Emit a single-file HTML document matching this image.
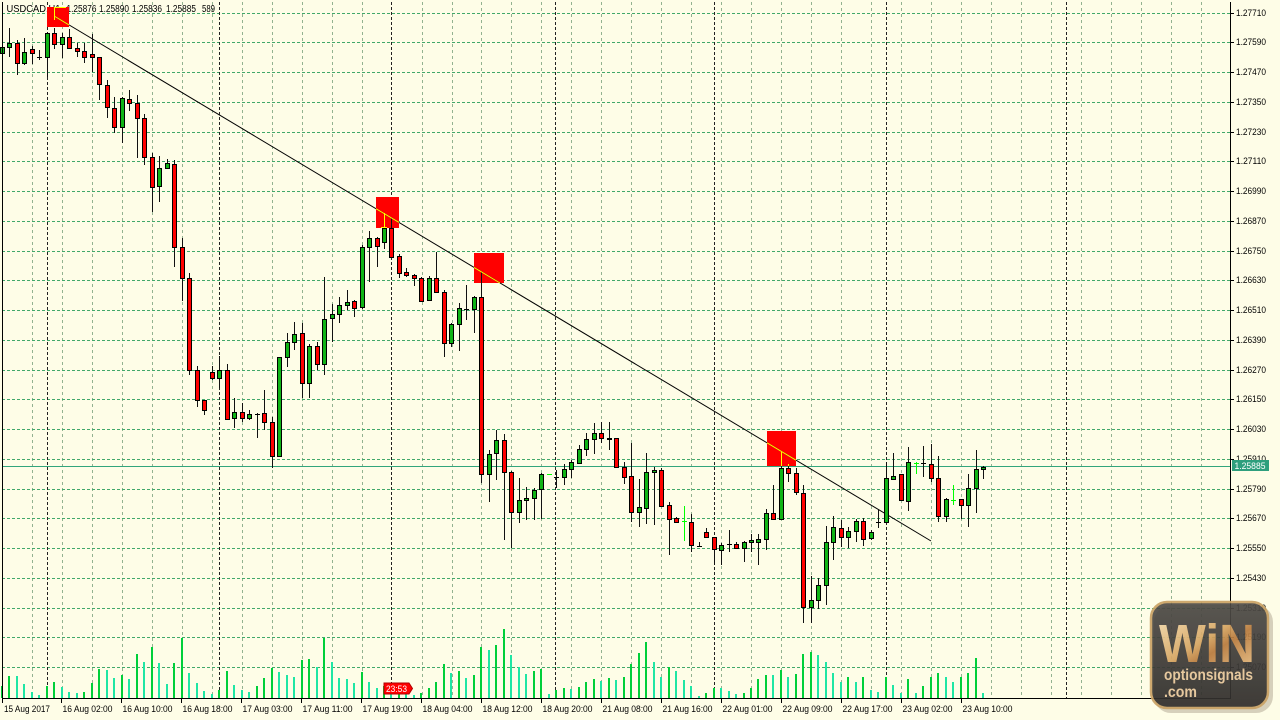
<!DOCTYPE html>
<html>
<head>
<meta charset="utf-8">
<style>
html,body{margin:0;padding:0;background:#FEFDE7;}
body{width:1280px;height:720px;overflow:hidden;}
svg{display:block;}
text{font-family:"Liberation Sans",sans-serif;}
</style>
</head>
<body>
<svg width="1280" height="720" viewBox="0 0 1280 720" xmlns="http://www.w3.org/2000/svg">
<defs>
<linearGradient id="gold" x1="0" y1="0" x2="1" y2="1">
<stop offset="0" stop-color="#f7e0b5"/>
<stop offset="0.45" stop-color="#d9a864"/>
<stop offset="0.6" stop-color="#b97a3c"/>
<stop offset="1" stop-color="#f0c98e"/>
</linearGradient>
<linearGradient id="bgl" x1="0" y1="0" x2="0" y2="1">
<stop offset="0" stop-color="#4d4a46"/>
<stop offset="1" stop-color="#2e2c2a"/>
</linearGradient>
</defs>
<rect x="0" y="0" width="1280" height="720" fill="#FEFDE7"/>

<!-- vertical grid -->
<path shape-rendering="crispEdges" stroke="#93b290" stroke-width="1" stroke-dasharray="3 3" fill="none" d="M32.5 2V698M62.5 2V698M92.5 2V698M122.5 2V698M152.5 2V698M182.5 2V698M212.5 2V698M242.5 2V698M272.5 2V698M302.5 2V698M332.5 2V698M362.5 2V698M422.5 2V698M452.5 2V698M481.5 2V698M511.5 2V698M541.5 2V698M571.5 2V698M601.5 2V698M631.5 2V698M661.5 2V698M691.5 2V698M721.5 2V698M751.5 2V698M781.5 2V698M811.5 2V698M841.5 2V698M871.5 2V698M901.5 2V698M931.5 2V698M961.5 2V698M991.5 2V698M1021.5 2V698M1051.5 2V698M1081.5 2V698M1111.5 2V698M1141.5 2V698M1171.5 2V698M1201.5 2V698"/>
<!-- horizontal grid -->
<path shape-rendering="crispEdges" stroke="#41a86a" stroke-width="1" stroke-dasharray="3 2" fill="none" d="M2 13.5H1230M2 42.5H1230M2 72.5H1230M2 102.5H1230M2 132.5H1230M2 161.5H1230M2 191.5H1230M2 221.5H1230M2 251.5H1230M2 280.5H1230M2 310.5H1230M2 340.5H1230M2 370.5H1230M2 399.5H1230M2 429.5H1230M2 459.5H1230M2 489.5H1230M2 518.5H1230M2 548.5H1230M2 578.5H1230M2 608.5H1230M2 637.5H1230M2 667.5H1230"/>
<!-- day separators -->
<path shape-rendering="crispEdges" stroke="#222" stroke-width="1" stroke-dasharray="3 2" fill="none" d="M47.5 2V698M219.5 2V698M391.5 2V698M555.5 2V698M714.5 2V698M886.5 2V698M1066.5 2V698"/>

<!-- header text -->
<text x="6.5" y="12" font-size="10" textLength="54" lengthAdjust="spacingAndGlyphs" fill="#000">USDCAD,H1</text>
<text x="66.5" y="12" font-size="10" textLength="30" lengthAdjust="spacingAndGlyphs" fill="#000">1.25876</text>
<text x="99" y="12" font-size="10" textLength="30" lengthAdjust="spacingAndGlyphs" fill="#000">1.25890</text>
<text x="132" y="12" font-size="10" textLength="30" lengthAdjust="spacingAndGlyphs" fill="#000">1.25836</text>
<text x="166" y="12" font-size="10" textLength="30" lengthAdjust="spacingAndGlyphs" fill="#000">1.25885</text>
<text x="202" y="12" font-size="10" textLength="13" lengthAdjust="spacingAndGlyphs" fill="#000">589</text>

<!-- red squares -->
<g fill="#ff0000" shape-rendering="crispEdges">
<rect x="47" y="7" width="22" height="20"/>
<rect x="376" y="197" width="23" height="31"/>
<rect x="474" y="253" width="30" height="30"/>
<rect x="767" y="431" width="29" height="35"/>
</g>

<!-- volumes -->
<path shape-rendering="crispEdges" stroke="#00cf3a" stroke-width="2" fill="none" d="M2 686V698M9 676V698M47 686V698M54 682V698M84 692V698M92 683V698M99 669V698M122 675V698M137 654V698M152 647V698M174 663V698M182 638V698M219 690V698M227 671V698M257 686V698M264 678V698M272 668V698M302 660V698M309 659V698M324 638V698M362 672V698M384 686V698M399 686V698M421 693V698M429 688V698M436 682V698M444 664V698M459 671V698M474 675V698M481 647V698M496 645V698M504 629V698M534 671V698M541 669V698M556 690V698M564 688V698M579 687V698M586 682V698M594 679V698M609 678V698M624 677V698M631 664V698M639 653V698M646 642V698M669 667V698M706 693V698M714 688V698M744 693V698M751 688V698M758 679V698M766 675V698M781 670V698M796 674V698M803 654V698M811 652V698M848 677V698M863 677V698M886 677V698M908 679V698M923 686V698M931 677V698M938 673V698M961 677V698M968 673V698M976 658V698"/>
<path shape-rendering="crispEdges" stroke="#1fe6a4" stroke-width="2" fill="none" d="M17 676V698M24 684V698M32 692V698M39 695V698M62 687V698M69 692V698M77 693V698M107 670V698M114 678V698M129 679V698M144 662V698M159 663V698M167 684V698M189 673V698M197 683V698M204 691V698M212 694V698M234 685V698M242 690V698M249 692V698M279 672V698M287 675V698M294 677V698M317 667V698M332 662V698M339 678V698M347 679V698M354 683V698M369 682V698M377 688V698M391 688V698M406 690V698M414 695V698M451 673V698M466 678V698M489 650V698M511 655V698M519 667V698M526 674V698M549 694V698M571 689V698M601 681V698M616 680V698M654 662V698M661 677V698M676 671V698M684 680V698M691 686V698M699 696V698M721 688V698M729 691V698M736 694V698M773 675V698M788 677V698M818 655V698M826 662V698M833 673V698M841 682V698M856 682V698M871 690V698M878 692V698M893 685V698M901 693V698M916 693V698M946 677V698M953 682V698M983 693V698"/>

<!-- current price line -->
<path shape-rendering="crispEdges" stroke="#33a57c" stroke-width="1" d="M2 466.5H1230"/>

<!-- trendline -->
<path stroke="#000" stroke-width="1" fill="none" d="M55 16.5L931 541"/>

<!-- wicks -->
<path shape-rendering="crispEdges" stroke="#111" stroke-width="1" fill="none" d="M2.5 44V56M9.5 28V57M17.5 40V75M24.5 38V65M32.5 46V64M39.5 50V60M47.5 32V77M54.5 28V49M62.5 33V58M69.5 29V48M77.5 43V57M84.5 43V63M92.5 34V72M99.5 57V100M107.5 80V118M114.5 97V133M122.5 97V143M129.5 90V111M137.5 95V158M144.5 114V165M152.5 153V212M159.5 156V202M167.5 159V169M174.5 160V267M182.5 238V301M189.5 273V375M197.5 366V407M204.5 400V415M212.5 366V380M219.5 356V388M227.5 364V420M234.5 398V428M242.5 403V422M249.5 410V420M257.5 413V438M264.5 390V430M272.5 417V468M279.5 357V456M287.5 333V367M294.5 322V350M302.5 323V398M309.5 344V398M317.5 342V370M324.5 277V375M332.5 304V342M339.5 297V323M347.5 290V310M354.5 300V317M362.5 245V309M369.5 231V282M377.5 237V267M384.5 213V249M391.5 218V258M399.5 254V278M406.5 268V277M414.5 274V286M421.5 277V302M429.5 276V301M436.5 252V293M444.5 290V357M451.5 323V347M459.5 303V351M466.5 285V320M474.5 296V333M481.5 272V483M489.5 450V502M496.5 430V480M504.5 434V540M511.5 471V548M519.5 478V523M526.5 487V520M534.5 488V520M541.5 473V519M556.5 470V488M564.5 464V485M571.5 460V478M579.5 445V464M586.5 433V456M594.5 423V454M601.5 422V443M609.5 422V450M616.5 438V468M624.5 462V484M631.5 443V522M639.5 479V527M646.5 453V524M654.5 467V525M661.5 468V507M669.5 502V555M676.5 517V523M691.5 514V552M699.5 542V547M706.5 528V538M714.5 537V565M721.5 543V565M729.5 530V552M736.5 542V548M744.5 541V562M751.5 534V552M758.5 534V565M766.5 509V550M773.5 485V520M781.5 452V520M788.5 464V482M796.5 468V495M803.5 485V623M811.5 576V623M818.5 578V609M826.5 526V605M833.5 516V560M841.5 520V547M848.5 527V548M856.5 519V542M863.5 518V546M871.5 530V540M878.5 510V528M886.5 462V523M893.5 453V480M901.5 474V501M908.5 447V511M923.5 446V477M931.5 444V482M938.5 456V522M946.5 498V522M961.5 499V519M968.5 474V527M976.5 450V513M983.5 466V479"/>

<!-- green bodies -->
<path shape-rendering="crispEdges" fill="#10b416" stroke="#000" stroke-width="1" d="M0.5 47.5h4v6h-4zM7.5 43.5h4v4h-4zM22.5 52.5h4v11h-4zM45.5 33.5h4v24h-4zM60.5 37.5h4v7h-4zM120.5 98.5h4v29h-4zM157.5 168.5h4v18h-4zM165.5 163.5h4v5h-4zM217.5 370.5h4v8h-4zM232.5 412.5h4v6h-4zM247.5 414.5h4v4h-4zM277.5 357.5h4v99h-4zM285.5 342.5h4v15h-4zM292.5 334.5h4v8h-4zM307.5 346.5h4v37h-4zM322.5 319.5h4v45h-4zM330.5 314.5h4v4h-4zM337.5 305.5h4v9h-4zM345.5 302.5h4v3h-4zM360.5 247.5h4v60h-4zM367.5 238.5h4v9h-4zM382.5 228.5h4v14h-4zM427.5 278.5h4v22h-4zM449.5 324.5h4v19h-4zM457.5 308.5h4v16h-4zM472.5 297.5h4v12h-4zM487.5 454.5h4v20h-4zM494.5 440.5h4v13h-4zM517.5 500.5h4v12h-4zM524.5 498.5h4v2h-4zM532.5 490.5h4v8h-4zM539.5 474.5h4v15h-4zM562.5 469.5h4v8h-4zM569.5 462.5h4v7h-4zM577.5 449.5h4v14h-4zM584.5 439.5h4v10h-4zM592.5 433.5h4v6h-4zM637.5 507.5h4v5h-4zM644.5 472.5h4v36h-4zM652.5 470.5h4v2h-4zM719.5 545.5h4v5h-4zM742.5 542.5h4v6h-4zM749.5 540.5h4v2h-4zM756.5 539.5h4v3h-4zM764.5 513.5h4v26h-4zM779.5 468.5h4v51h-4zM809.5 600.5h4v7h-4zM816.5 585.5h4v15h-4zM824.5 542.5h4v43h-4zM831.5 527.5h4v15h-4zM846.5 531.5h4v6h-4zM854.5 521.5h4v10h-4zM869.5 532.5h4v6h-4zM884.5 478.5h4v44h-4zM891.5 476.5h4v3h-4zM906.5 462.5h4v39h-4zM944.5 499.5h4v17h-4zM966.5 488.5h4v17h-4zM974.5 469.5h4v19h-4zM981.5 467.5h4v2h-4z"/>

<!-- red bodies -->
<path shape-rendering="crispEdges" fill="#ff0000" stroke="#000" stroke-width="1" d="M15.5 43.5h4v20h-4zM30.5 49.5h4v4h-4zM52.5 33.5h4v11h-4zM67.5 37.5h4v11h-4zM75.5 48.5h4v3h-4zM82.5 51.5h4v6h-4zM90.5 54.5h4v3h-4zM97.5 57.5h4v27h-4zM105.5 85.5h4v22h-4zM112.5 108.5h4v19h-4zM127.5 99.5h4v4h-4zM135.5 103.5h4v15h-4zM142.5 118.5h4v39h-4zM150.5 157.5h4v30h-4zM172.5 164.5h4v83h-4zM180.5 247.5h4v31h-4zM187.5 278.5h4v92h-4zM195.5 370.5h4v30h-4zM202.5 400.5h4v10h-4zM210.5 372.5h4v6h-4zM225.5 370.5h4v49h-4zM240.5 412.5h4v6h-4zM262.5 413.5h4v9h-4zM270.5 422.5h4v34h-4zM300.5 333.5h4v50h-4zM315.5 346.5h4v18h-4zM352.5 301.5h4v7h-4zM375.5 238.5h4v8h-4zM389.5 228.5h4v29h-4zM397.5 256.5h4v17h-4zM404.5 272.5h4v3h-4zM412.5 275.5h4v3h-4zM419.5 278.5h4v23h-4zM434.5 278.5h4v14h-4zM442.5 292.5h4v51h-4zM479.5 297.5h4v177h-4zM502.5 440.5h4v32h-4zM509.5 472.5h4v40h-4zM599.5 433.5h4v5h-4zM614.5 438.5h4v29h-4zM622.5 467.5h4v10h-4zM629.5 476.5h4v36h-4zM659.5 470.5h4v36h-4zM667.5 505.5h4v14h-4zM674.5 518.5h4v4h-4zM689.5 522.5h4v23h-4zM704.5 532.5h4v5h-4zM712.5 537.5h4v12h-4zM734.5 544.5h4v4h-4zM771.5 513.5h4v6h-4zM786.5 468.5h4v5h-4zM794.5 473.5h4v19h-4zM801.5 493.5h4v114h-4zM839.5 528.5h4v9h-4zM861.5 521.5h4v18h-4zM899.5 474.5h4v26h-4zM929.5 464.5h4v14h-4zM936.5 478.5h4v38h-4zM959.5 499.5h4v6h-4z"/>

<!-- black dojis -->
<path shape-rendering="crispEdges" stroke="#000" stroke-width="1" fill="none" d="M37 57.5h5M255 414.5h5M464 309.5h5M554 477.5h5M607 438.5h5M607 439.5h5M697 546.5h5M727 544.5h5M876 522.5h5M921 463.5h5"/>
<!-- lime dojis -->
<path shape-rendering="crispEdges" stroke="#00ff00" stroke-width="1" fill="none" d="M547 474.5h5M684.5 506V541M682 521.5h5M916.5 462V474M914 463.5h5M953.5 485V505M951 500.5h5"/>

<!-- yellow highlights inside squares -->
<path stroke="#ffff00" stroke-width="1" fill="none" d="M55 16.5L69 24.9M54.5 20V7.5H66M376 208.7L399 222.4M474 267.4L500 283M767 442.8L796 460.2"/>
<path shape-rendering="crispEdges" stroke="#ffff00" stroke-width="1" fill="none" d="M384.5 213V227M381 227.5h6M781.5 452V466M788.5 464V466"/>

<!-- frame -->
<path shape-rendering="crispEdges" stroke="#000" stroke-width="1" fill="none" d="M2.5 2V699M2 698.5H1231M1230.5 2V699"/>
<!-- price axis ticks -->
<path shape-rendering="crispEdges" stroke="#000" stroke-width="1" fill="none" d="M1230 13.5h4M1230 42.5h4M1230 72.5h4M1230 102.5h4M1230 132.5h4M1230 161.5h4M1230 191.5h4M1230 221.5h4M1230 251.5h4M1230 280.5h4M1230 310.5h4M1230 340.5h4M1230 370.5h4M1230 399.5h4M1230 429.5h4M1230 459.5h4M1230 489.5h4M1230 518.5h4M1230 548.5h4M1230 578.5h4M1230 608.5h4M1230 637.5h4M1230 667.5h4"/>
<!-- time axis ticks -->
<path shape-rendering="crispEdges" stroke="#000" stroke-width="1" fill="none" d="M2.5 699V703M61.5 699V703M121.5 699V703M181.5 699V703M241.5 699V703M301.5 699V703M361.5 699V703M421.5 699V703M481.5 699V703M541.5 699V703M601.5 699V703M661.5 699V703M721.5 699V703M781.5 699V703M841.5 699V703M901.5 699V703M961.5 699V703"/>

<!-- price labels -->
<g font-size="9" fill="#000">
<text x="1236" y="16" textLength="30" lengthAdjust="spacingAndGlyphs">1.27710</text>
<text x="1236" y="45" textLength="30" lengthAdjust="spacingAndGlyphs">1.27590</text>
<text x="1236" y="75" textLength="30" lengthAdjust="spacingAndGlyphs">1.27470</text>
<text x="1236" y="105" textLength="30" lengthAdjust="spacingAndGlyphs">1.27350</text>
<text x="1236" y="135" textLength="30" lengthAdjust="spacingAndGlyphs">1.27230</text>
<text x="1236" y="164" textLength="30" lengthAdjust="spacingAndGlyphs">1.27110</text>
<text x="1236" y="194" textLength="30" lengthAdjust="spacingAndGlyphs">1.26990</text>
<text x="1236" y="224" textLength="30" lengthAdjust="spacingAndGlyphs">1.26870</text>
<text x="1236" y="254" textLength="30" lengthAdjust="spacingAndGlyphs">1.26750</text>
<text x="1236" y="283" textLength="30" lengthAdjust="spacingAndGlyphs">1.26630</text>
<text x="1236" y="313" textLength="30" lengthAdjust="spacingAndGlyphs">1.26510</text>
<text x="1236" y="343" textLength="30" lengthAdjust="spacingAndGlyphs">1.26390</text>
<text x="1236" y="373" textLength="30" lengthAdjust="spacingAndGlyphs">1.26270</text>
<text x="1236" y="402" textLength="30" lengthAdjust="spacingAndGlyphs">1.26150</text>
<text x="1236" y="432" textLength="30" lengthAdjust="spacingAndGlyphs">1.26030</text>
<text x="1236" y="462" textLength="30" lengthAdjust="spacingAndGlyphs">1.25910</text>
<text x="1236" y="492" textLength="30" lengthAdjust="spacingAndGlyphs">1.25790</text>
<text x="1236" y="521" textLength="30" lengthAdjust="spacingAndGlyphs">1.25670</text>
<text x="1236" y="551" textLength="30" lengthAdjust="spacingAndGlyphs">1.25550</text>
<text x="1236" y="581" textLength="30" lengthAdjust="spacingAndGlyphs">1.25430</text>
<text x="1236" y="611" textLength="30" lengthAdjust="spacingAndGlyphs">1.25310</text>
<text x="1236" y="640" textLength="30" lengthAdjust="spacingAndGlyphs">1.25190</text>
<text x="1236" y="670" textLength="30" lengthAdjust="spacingAndGlyphs">1.25070</text>
</g>

<!-- current price box -->
<rect x="1232" y="460" width="37" height="11" fill="#2e9f7d"/>
<text x="1234.5" y="469" font-size="9" fill="#fff" textLength="31" lengthAdjust="spacingAndGlyphs">1.25885</text>

<!-- time labels -->
<g font-size="9" fill="#000">
<text x="4" y="712" textLength="46" lengthAdjust="spacingAndGlyphs">15 Aug 2017</text>
<text x="62.5" y="712" textLength="50" lengthAdjust="spacingAndGlyphs">16 Aug 02:00</text>
<text x="122.5" y="712" textLength="50" lengthAdjust="spacingAndGlyphs">16 Aug 10:00</text>
<text x="182.5" y="712" textLength="50" lengthAdjust="spacingAndGlyphs">16 Aug 18:00</text>
<text x="242.5" y="712" textLength="50" lengthAdjust="spacingAndGlyphs">17 Aug 03:00</text>
<text x="302.5" y="712" textLength="50" lengthAdjust="spacingAndGlyphs">17 Aug 11:00</text>
<text x="362.5" y="712" textLength="50" lengthAdjust="spacingAndGlyphs">17 Aug 19:00</text>
<text x="422.5" y="712" textLength="50" lengthAdjust="spacingAndGlyphs">18 Aug 04:00</text>
<text x="482.5" y="712" textLength="50" lengthAdjust="spacingAndGlyphs">18 Aug 12:00</text>
<text x="542.5" y="712" textLength="50" lengthAdjust="spacingAndGlyphs">18 Aug 20:00</text>
<text x="602.5" y="712" textLength="50" lengthAdjust="spacingAndGlyphs">21 Aug 08:00</text>
<text x="662.5" y="712" textLength="50" lengthAdjust="spacingAndGlyphs">21 Aug 16:00</text>
<text x="722.5" y="712" textLength="50" lengthAdjust="spacingAndGlyphs">22 Aug 01:00</text>
<text x="782.5" y="712" textLength="50" lengthAdjust="spacingAndGlyphs">22 Aug 09:00</text>
<text x="842.5" y="712" textLength="50" lengthAdjust="spacingAndGlyphs">22 Aug 17:00</text>
<text x="902.5" y="712" textLength="50" lengthAdjust="spacingAndGlyphs">23 Aug 02:00</text>
<text x="962.5" y="712" textLength="50" lengthAdjust="spacingAndGlyphs">23 Aug 10:00</text>
</g>

<!-- 23:53 tag -->
<path d="M384 683H409L412.5 688.5L409 694H384Z" fill="#ff0000" stroke="#b00000" stroke-width="1"/>
<text x="386" y="692" font-size="9" fill="#fff" textLength="21" lengthAdjust="spacingAndGlyphs">23:53</text>

<!-- logo -->
<rect x="1154" y="605" width="119" height="108" rx="17" fill="#7a6a55" opacity="0.3"/>
<g opacity="0.9">
<rect x="1151" y="602" width="117" height="106" rx="16" fill="url(#bgl)" stroke="#c9a163" stroke-width="2.5"/>
<text x="1159" y="662" font-size="54" font-weight="bold" fill="url(#gold)" textLength="96" lengthAdjust="spacingAndGlyphs">WiN</text>
<text x="1164" y="680" font-size="16" font-weight="bold" fill="#e8c89b" textLength="89" lengthAdjust="spacingAndGlyphs">optionsignals</text>
<text x="1164" y="697" font-size="16" font-weight="bold" fill="#e8c89b" textLength="33" lengthAdjust="spacingAndGlyphs">.com</text>
</g>
</svg>
</body>
</html>
